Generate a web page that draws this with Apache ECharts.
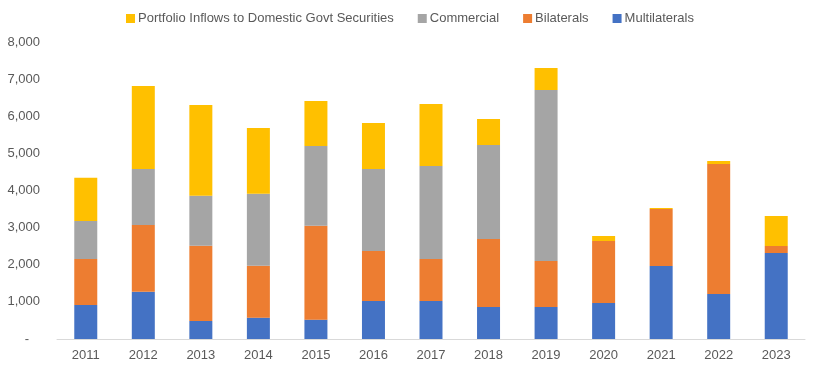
<!DOCTYPE html>
<html>
<head>
<meta charset="utf-8">
<script src="https://cdn.jsdelivr.net/npm/echarts@6/dist/echarts.min.js"></script>
<style>html,body{margin:0;padding:0;background:#fff}#c{width:813px;height:369px}</style>
</head>
<body>
<div id="c"></div>
<script>
const categories = ['2011','2012','2013','2014','2015','2016','2017','2018','2019','2020','2021','2022','2023'];
const multilaterals = [916, 1274, 485, 575, 521, 1024, 1024, 862, 862, 970, 1966, 1212, 2316];
const bilaterals    = [1239, 1797, 2028, 1400, 2531, 1346, 1131, 1832, 1239, 1670, 1536, 3502, 189];
const commercial    = [1023, 1508, 1347, 1939, 2147, 2209, 2505, 2532, 4606, 0, 0, 0, 0];
const portfolio     = [1167, 2236, 2443, 1769, 1212, 1239, 1670, 700, 593, 134, 27, 81, 808];
const yTicks = [0, 1000, 2000, 3000, 4000, 5000, 6000, 7000, 8000];

const chart = echarts.init(document.getElementById('c'));
const font = 'Liberation Sans';
function bar(name, data, color) {
  return { name, type: 'bar', stack: 'total', data, barWidth: 23, itemStyle: { color }, emphasis: { disabled: true } };
}
chart.setOption({
  animation: false,
  textStyle: { fontFamily: font },
  legend: {
    top: 7, left: 121, itemWidth: 9, itemHeight: 9, itemGap: 24,
    icon: 'rect',
    textStyle: { color: '#595959', fontSize: 13, fontFamily: font, padding: [0, 0, 0, -2] },
    data: ['Portfolio Inflows to Domestic Govt Securities', 'Commercial', 'Bilaterals', 'Multilaterals']
  },
  grid: { left: 57, right: 8, top: 42, bottom: 30 },
  xAxis: {
    type: 'category', data: categories,
    axisLine: { lineStyle: { color: '#d9d9d9' } },
    axisTick: { show: false },
    axisLabel: { color: '#595959', fontSize: 13, margin: 10 }
  },
  yAxis: {
    type: 'value', min: yTicks[0], max: yTicks[yTicks.length - 1], interval: 1000,
    splitLine: { show: false },
    axisLine: { show: false }, axisTick: { show: false },
    axisLabel: {
      color: '#595959', fontSize: 13, margin: 17,
      formatter: v => v === 0 ? '-   ' : v.toLocaleString('en-US')
    }
  },
  series: [
    bar('Multilaterals', multilaterals, '#4472c4'),
    bar('Bilaterals', bilaterals, '#ed7d31'),
    bar('Commercial', commercial, '#a5a5a5'),
    bar('Portfolio Inflows to Domestic Govt Securities', portfolio, '#ffc000')
  ]
});
</script>
</body>
</html>
